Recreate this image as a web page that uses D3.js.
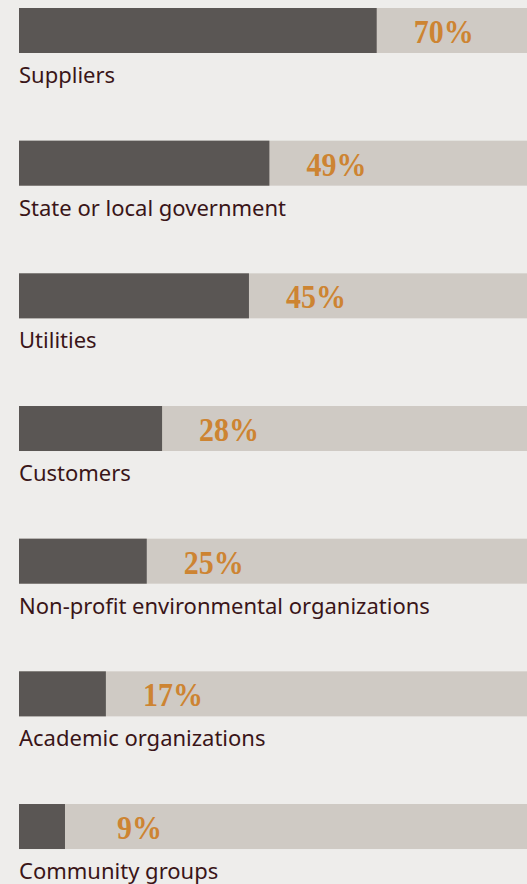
<!DOCTYPE html>
<html>
<head>
<meta charset="utf-8">
<style>
  body { margin: 0; background: #eeedeb; overflow: hidden; }
  .cat { font-family: 'Noto Sans', sans-serif; font-size: 22px; fill: #3a1518; }
  .val { font-family: 'Liberation Serif', serif; font-weight: bold; font-size: 30px; fill: #cd8432; }
</style>
</head>
<body>
<svg width="527" height="884"></svg>
<script src="https://cdn.jsdelivr.net/npm/d3@7"></script>
<script>
let categories = ["Suppliers", "State or local government", "Utilities", "Customers",
  "Non-profit environmental organizations", "Academic organizations", "Community groups"];
let values = [70, 49, 45, 28, 25, 17, 9];

let width = 527, height = 884;
let svg = d3.select("svg");

let x = d3.scaleLinear().domain([0, 100]).range([19, 530]);
let y = d3.scaleBand().domain(categories).range([8, 8 + 7 * 132.67]).paddingInner(0);
let barH = 45;

let data = categories.map((c, i) => ({ cat: c, val: values[i] }));

let g = svg.selectAll("g.row")
  .data(data)
  .enter()
  .append("g")
  .attr("class", "row")
  .attr("transform", d => "translate(0," + y(d.cat) + ")");

// grey track
g.append("rect")
  .attr("x", x(0))
  .attr("y", 0)
  .attr("width", x(100) - x(0))
  .attr("height", barH)
  .attr("fill", "#cfcac4");

// value bar
g.append("rect")
  .attr("x", x(0))
  .attr("y", 0)
  .attr("width", d => x(d.val) - x(0))
  .attr("height", barH)
  .attr("fill", "#5a5654");

// percent label, right edge sits a fixed distance past the bar end
g.append("text")
  .attr("class", "val")
  .attr("transform", d => "translate(" + (x(d.val) + 97) + ",35) scale(1,1.15)")
  .attr("text-anchor", "end")
  .text(d => d.val + "%");

g.append("text")
  .attr("class", "cat")
  .attr("x", 19)
  .attr("y", 75)
  .text(d => d.cat);
</script>
</body>
</html>
